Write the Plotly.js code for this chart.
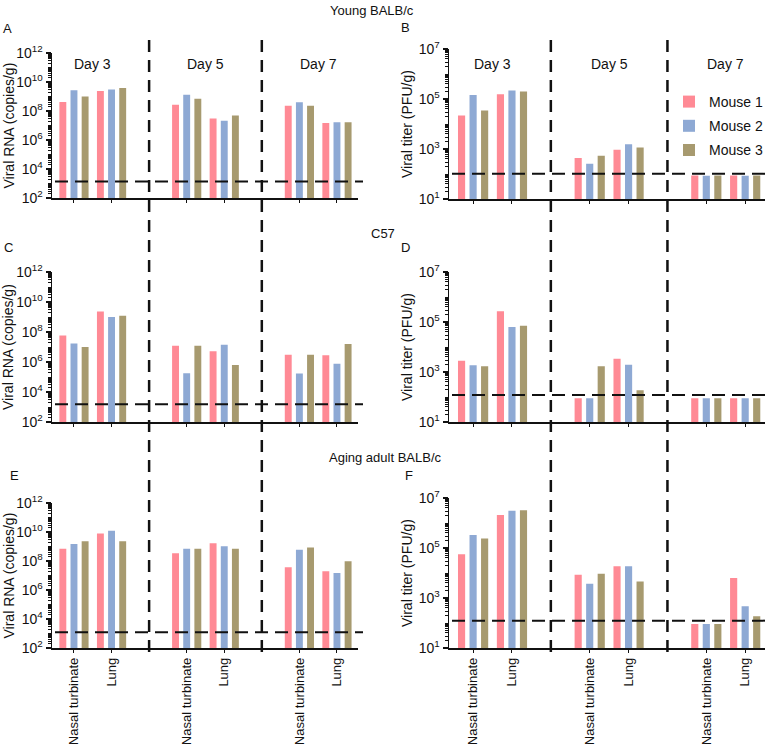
<!DOCTYPE html>
<html>
<head>
<meta charset="utf-8">
<script src="https://cdn.plot.ly/plotly-3.0.1.min.js"></script>
<style>
  html, body { margin: 0; padding: 0; background: #fff; }
  #chart { width: 770px; height: 744px; }
</style>
</head>
<body>
<div id="chart"></div>
<script>
var days = ['Day 3', 'Day 5', 'Day 7'];
var tissues = ['Nasal turbinate', 'Lung'];
var mice = ['Mouse 1', 'Mouse 2', 'Mouse 3'];
var mouseColors = ['#FF8A95', '#8EA9D4', '#A79A6F'];
var rowTitles = ['Young BALB/c', 'C57', 'Aging adult BALB/c'];

// each series: D3 nasal, D3 lung, D5 nasal, D5 lung, D7 nasal, D7 lung
var youngRna1 = [4.2e8, 2.4e9, 2.7e8, 3.0e7, 2.3e8, 1.5e7];
var youngRna2 = [2.7e9, 3.0e9, 1.3e9, 2.1e7, 4.0e8, 1.7e7];
var youngRna3 = [1.0e9, 3.9e9, 7.0e8, 4.8e7, 2.3e8, 1.7e7];

var youngPfu1 = [2.2e4, 1.55e5, 440, 930, 88, 88];
var youngPfu2 = [1.45e5, 2.2e5, 257, 1550, 85, 85];
var youngPfu3 = [3.5e4, 2.0e5, 537, 1150, 88, 88];

var c57Rna1 = [5.9e7, 2.3e9, 1.2e7, 5.2e6, 3.0e6, 2.8e6];
var c57Rna2 = [1.7e7, 1.0e9, 1.8e5, 1.4e7, 1.7e5, 7.5e5];
var c57Rna3 = [1.0e7, 1.2e9, 1.2e7, 6.2e5, 3.1e6, 1.6e7];

var c57Pfu1 = [2.8e3, 2.7e5, 89, 3.4e3, 89, 89];
var c57Pfu2 = [1.85e3, 6.3e4, 89, 1.95e3, 89, 89];
var c57Pfu3 = [1.7e3, 7.1e4, 1.7e3, 186, 89, 89];

var agingRna1 = [6.9e8, 7.9e9, 3.4e8, 1.7e9, 3.7e7, 2.0e7];
var agingRna2 = [1.5e9, 1.2e10, 6.9e8, 1.05e9, 5.9e8, 1.5e7];
var agingRna3 = [2.3e9, 2.3e9, 6.9e8, 6.9e8, 8.5e8, 9.5e7];

var agingPfu1 = [5.6e4, 2.1e6, 8.6e3, 1.85e4, 91, 6.3e3];
var agingPfu2 = [3.3e5, 3.1e6, 3.7e3, 1.85e4, 91, 465];
var agingPfu3 = [2.4e5, 3.2e6, 9.4e3, 4.6e3, 91, 185];

// detection limits per row
var lodRna = [1.35e3, 1.5e3, 1.2e3];
var lodPfu = [102, 120, 124];

var rnaTickVals = [1e2, 1e4, 1e6, 1e8, 1e10, 1e12];
var rnaTickText = ['10<sup>2</sup>', '10<sup>4</sup>', '10<sup>6</sup>', '10<sup>8</sup>', '10<sup>10</sup>', '10<sup>12</sup>'];
var pfuTickVals = [1e1, 1e3, 1e5, 1e7];
var pfuTickText = ['10<sup>1</sup>', '10<sup>3</sup>', '10<sup>5</sup>', '10<sup>7</sup>'];

var W = 770, H = 744;
function px(v) { return v / W; }
function py(v) { return 1 - v / H; }
var FONT = 'Liberation Sans, Arial, sans-serif';

// slot on the x axis for each bar group: day * 3 + tissue (gap between days)
var slots = [];
var slotText = [];
days.forEach(function (d, di) {
  tissues.forEach(function (t, ti) {
    slots.push(di * 3 + ti);
    slotText.push(t);
  });
});

var panels = [
  { letter: 'A', series: [youngRna1, youngRna2, youngRna3], kind: 'rna', row: 0, col: 0, top: 53, bottom: 198 },
  { letter: 'B', series: [youngPfu1, youngPfu2, youngPfu3], kind: 'pfu', row: 0, col: 1, top: 49, bottom: 199 },
  { letter: 'C', series: [c57Rna1, c57Rna2, c57Rna3], kind: 'rna', row: 1, col: 0, top: 272, bottom: 422 },
  { letter: 'D', series: [c57Pfu1, c57Pfu2, c57Pfu3], kind: 'pfu', row: 1, col: 1, top: 272, bottom: 422 },
  { letter: 'E', series: [agingRna1, agingRna2, agingRna3], kind: 'rna', row: 2, col: 0, top: 503, bottom: 648 },
  { letter: 'F', series: [agingPfu1, agingPfu2, agingPfu3], kind: 'pfu', row: 2, col: 1, top: 498, bottom: 648 }
];
var colX = [[52, 358], [449, 765]];
var colRange = [[-0.585, 7.56], [-0.62, 7.51]];
var letterPos = [[7, 29], [405, 28], [8, 248], [405, 248], [14, 475], [409, 475]];

var data = [];
var layout = {
  width: W, height: H,
  margin: { l: 0, r: 0, t: 0, b: 0 },
  paper_bgcolor: '#fff', plot_bgcolor: 'rgba(0,0,0,0)',
  font: { family: FONT, size: 13, color: '#111' },
  barmode: 'group',
  bargap: 0.11,
  bargroupgap: 0.38,
  showlegend: true,
  legend: {
    x: px(669), y: py(86), xanchor: 'left', yanchor: 'top',
    font: { family: FONT, size: 14, color: '#111' },
    tracegroupgap: 3,
    bgcolor: 'rgba(0,0,0,0)'
  },
  shapes: [],
  annotations: []
};

panels.forEach(function (p, i) {
  var n = i === 0 ? '' : String(i + 1);
  var xa = 'x' + n, ya = 'y' + n;
  var isRna = p.kind === 'rna';
  p.series.forEach(function (vals, m) {
    data.push({
      type: 'bar',
      x: slots,
      y: vals,
      name: mice[m],
      legendgroup: mice[m],
      showlegend: p.letter === 'B',
      marker: { color: mouseColors[m], line: { width: 0 } },
      xaxis: xa, yaxis: ya,
      hoverinfo: 'x+y+name'
    });
  });

  var cx = colX[p.col];
  var xaxis = {
    domain: [px(cx[0]), px(cx[1])],
    range: colRange[p.col],
    anchor: ya,
    showgrid: false, zeroline: false,
    showline: true, linecolor: '#111', linewidth: 1.5,
    tickmode: 'array', tickvals: slots,
    ticks: 'outside', ticklen: 3, tickwidth: 1, tickcolor: '#111',
    showticklabels: p.row === 2,
    tickangle: -90,
    tickfont: { family: FONT, size: 13, color: '#111' }
  };
  if (p.row === 2) xaxis.ticktext = slotText;
  layout['xaxis' + n] = xaxis;

  layout['yaxis' + n] = {
    domain: [py(p.bottom), py(p.top)],
    type: 'log',
    range: isRna ? [2, 12] : [1, 7],
    anchor: xa,
    showgrid: false, zeroline: false,
    showline: true, linecolor: '#111', linewidth: 1.5,
    tickmode: 'array',
    tickvals: isRna ? rnaTickVals : pfuTickVals,
    ticktext: isRna ? rnaTickText : pfuTickText,
    ticks: 'outside', ticklen: 5, tickwidth: 1.2, tickcolor: '#111',
    tickfont: { family: FONT, size: 14, color: '#111' },
    minor: { dtick: 'D1', ticks: 'outside', ticklen: 3, tickwidth: 1, tickcolor: '#111', showgrid: false }
  };

  // detection limit
  layout.shapes.push({
    type: 'line', xref: 'paper', yref: ya,
    x0: px(cx[0] + 3), x1: px(cx[1] + (p.col === 0 ? 5 : 0)),
    y0: isRna ? lodRna[p.row] : lodPfu[p.row],
    y1: isRna ? lodRna[p.row] : lodPfu[p.row],
    line: { color: '#111', width: 2, dash: '13px,7px' }
  });

  // panel letter
  layout.annotations.push({
    text: p.letter, xref: 'paper', yref: 'paper',
    x: px(letterPos[i][0]), y: py(letterPos[i][1]),
    xanchor: 'center', yanchor: 'middle', showarrow: false,
    font: { family: FONT, size: 13, color: '#111' }
  });

  // axis title
  layout.annotations.push({
    text: isRna ? 'Viral RNA (copies/g)' : 'Viral titer (PFU/g)',
    xref: 'paper', yref: 'paper',
    x: px(p.col === 0 ? 8 : 407), y: py((p.top + p.bottom) / 2),
    xanchor: 'center', yanchor: 'middle', textangle: -90, showarrow: false,
    font: { family: FONT, size: 14, color: '#111' }
  });

  // day labels in the top row
  if (p.row === 0) {
    days.forEach(function (d, di) {
      layout.annotations.push({
        text: d, xref: xa, yref: 'paper',
        x: di * 3 + 0.5, y: py(64),
        xanchor: 'center', yanchor: 'middle', showarrow: false,
        font: { family: FONT, size: 14, color: '#111' }
      });
    });
  }
});

// dividers between days, running through all three rows
[['x', 652], ['x2', 653]].forEach(function (c) {
  [2, 5].forEach(function (pos) {
    layout.shapes.push({
      type: 'line', xref: c[0], yref: 'paper',
      x0: pos, x1: pos, y0: py(40), y1: py(c[1]),
      line: { color: '#111', width: 2.5, dash: '12px,8px' }
    });
  });
});

// row titles
[[372, 11], [383, 233], [386, 457]].forEach(function (pos, r) {
  layout.annotations.push({
    text: rowTitles[r], xref: 'paper', yref: 'paper',
    x: px(pos[0]), y: py(pos[1]),
    xanchor: 'center', yanchor: 'middle', showarrow: false,
    font: { family: FONT, size: 13, color: '#111' }
  });
});

Plotly.newPlot('chart', data, layout, { displayModeBar: false, staticPlot: true });
</script>
</body>
</html>
